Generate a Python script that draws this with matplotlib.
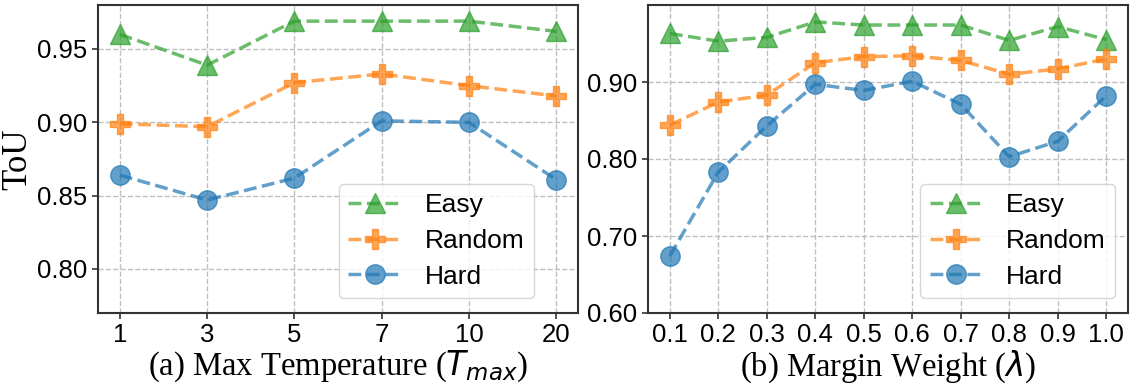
import matplotlib
matplotlib.use("Agg")
import matplotlib.pyplot as plt

# ---- data ----
temp_labels = ["1", "3", "5", "7", "10", "20"]
temp_easy = [0.960, 0.939, 0.969, 0.969, 0.969, 0.962]
temp_random = [0.899, 0.897, 0.927, 0.933, 0.925, 0.918]
temp_hard = [0.864, 0.847, 0.862, 0.901, 0.900, 0.861]

margin_x = [0.1, 0.2, 0.3, 0.4, 0.5, 0.6, 0.7, 0.8, 0.9, 1.0]
margin_labels = ["0.1", "0.2", "0.3", "0.4", "0.5", "0.6", "0.7", "0.8", "0.9", "1.0"]
margin_easy = [0.963, 0.953, 0.958, 0.978, 0.974, 0.974, 0.974, 0.954, 0.972, 0.955]
margin_random = [0.844, 0.874, 0.883, 0.925, 0.933, 0.934, 0.928, 0.910, 0.917, 0.930]
margin_hard = [0.674, 0.783, 0.843, 0.897, 0.889, 0.901, 0.871, 0.803, 0.823, 0.882]

series_names = ["Easy", "Random", "Hard"]
colors = ["#2ca02c", "#ff7f0e", "#1f77b4"]
markers = ["^", "P", "o"]

plt.rcParams["font.family"] = ["Liberation Sans", "DejaVu Sans"]
plt.rcParams["mathtext.fontset"] = "dejavusans"

fig = plt.figure(figsize=(11.34, 3.90), dpi=100)
ax1 = fig.add_axes([98 / 1134, 1 - 313 / 390, 480 / 1134, 308 / 390])
ax2 = fig.add_axes([648 / 1134, 1 - 313 / 390, 480 / 1134, 308 / 390])

serif = ["Liberation Serif", "DejaVu Serif"]


def draw(ax, xs, ys_list):
    for name, ys, c, m in zip(series_names, ys_list, colors, markers):
        ax.plot(xs, ys, linestyle="--", color=c, marker=m, markersize=14,
                linewidth=2.5, alpha=0.7, label=name,
                markeredgecolor=c, markeredgewidth=1.0)
    ax.grid(True, linestyle="--", color="#b0b0b0", linewidth=1.0, alpha=0.8)
    ax.set_axisbelow(True)
    for s in ax.spines.values():
        s.set_color("#333333")
        s.set_linewidth(1.5)
    ax.tick_params(axis="both", labelsize=18.5, length=4, width=1.2, color="#333333")


idx = list(range(len(temp_labels)))
draw(ax1, idx, [temp_easy, temp_random, temp_hard])
ax1.set_xticks(idx)
ax1.set_xticklabels(temp_labels)
ax1.set_xlim(-0.25, len(temp_labels) - 0.75)
ax1.set_ylim(0.77, 0.98)
ax1.set_yticks([0.80, 0.85, 0.90, 0.95])
ax1.set_yticklabels(["0.80", "0.85", "0.90", "0.95"])
ax1.set_ylabel("ToU", fontsize=25, family=serif, labelpad=2)
ax1.set_xlabel(r"(a) Max Temperature ($T_{max}$)", fontsize=23.5, family=serif, labelpad=1)

draw(ax2, margin_x, [margin_easy, margin_random, margin_hard])
ax2.set_xticks(margin_x)
ax2.set_xticklabels(margin_labels)
ax2.set_xlim(0.055, 1.045)
ax2.set_ylim(0.60, 1.00)
ax2.set_yticks([0.60, 0.70, 0.80, 0.90])
ax2.set_yticklabels(["0.60", "0.70", "0.80", "0.90"])
ax2.set_xlabel(r"(b) Margin Weight ($\lambda$)", fontsize=23.5, family=serif, labelpad=1)

leg_kw = dict(loc="lower right", fontsize=19, handlelength=2.0, handletextpad=0.9,
              labelspacing=0.45, borderpad=0.35, framealpha=0.8, fancybox=True,
              edgecolor="#cccccc")
l1 = ax1.legend(bbox_to_anchor=(0.908, 0.049), borderaxespad=0, **leg_kw)
l2 = ax2.legend(bbox_to_anchor=(0.973, 0.049), borderaxespad=0, **leg_kw)

fig.savefig("out.png", dpi=100)
